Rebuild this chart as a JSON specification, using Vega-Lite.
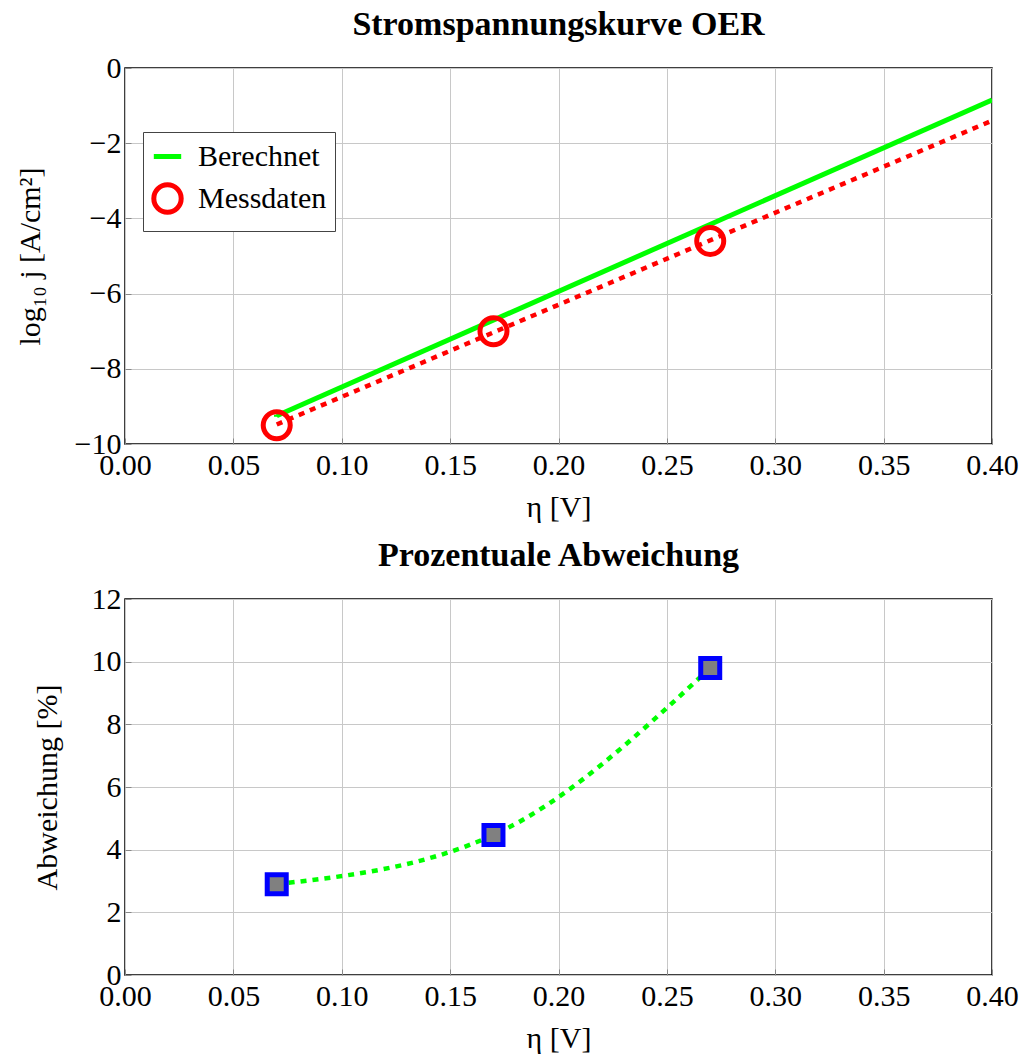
{
  "$schema": "https://vega.github.io/schema/vega-lite/v6.json",
  "background": "white",
  "padding": {"left": 14, "top": 7, "right": 30, "bottom": 5},
  "spacing": 15,
  "config": {
    "font": "Liberation Serif",
    "view": {"stroke": "black", "strokeWidth": 1.5},
    "axis": {
      "labelFont": "Liberation Serif",
      "titleFont": "Liberation Serif",
      "labelFontSize": 30,
      "titleFontSize": 30,
      "labelColor": "black",
      "titleColor": "black",
      "titleFontWeight": "normal",
      "gridColor": "#c8c8c8",
      "gridWidth": 1,
      "domain": false,
      "tickColor": "#888888",
      "tickSize": -6,
      "labelPadding": 12,
      "titlePadding": 12,
      "labelFlush": false,
      "labelOverlap": false
    },
    "axisY": {"labelPadding": 10, "titlePadding": 29},
    "title": {"font": "Liberation Serif", "fontSize": 34, "fontWeight": "bold", "color": "black", "offset": 11}
  },
  "datasets": {
    "calc": [
      {"eta": 0.07, "logj": -9.25, "series": "Berechnet"},
      {"eta": 0.40, "logj": -0.85, "series": "Berechnet"}
    ],
    "fit": [
      {"eta": 0.07, "logj": -9.48},
      {"eta": 0.40, "logj": -1.40}
    ],
    "meas": [
      {"eta": 0.07, "logj": -9.5, "series": "Messdaten"},
      {"eta": 0.17, "logj": -7.0, "series": "Messdaten"},
      {"eta": 0.27, "logj": -4.6, "series": "Messdaten"}
    ],
    "dev": [
      {"eta": 0.07, "dev": 2.9},
      {"eta": 0.17, "dev": 4.47},
      {"eta": 0.27, "dev": 9.8}
    ]
  },
  "vconcat": [
    {
      "title": "Stromspannungskurve OER",
      "width": 867,
      "height": 376,
      "layer": [
        {
          "data": {"name": "calc"},
          "mark": {"type": "line", "strokeWidth": 5, "clip": true},
          "encoding": {
            "x": {"field": "eta", "type": "quantitative", "scale": {"domain": [0, 0.4], "nice": false}, "axis": {"title": "η [V]", "values": [0, 0.05, 0.1, 0.15, 0.2, 0.25, 0.3, 0.35, 0.4], "format": ".2f"}},
            "y": {"field": "logj", "type": "quantitative", "scale": {"domain": [-10, 0], "nice": false}, "axis": {"title": "log₁₀ j [A/cm²]", "values": [-10, -8, -6, -4, -2, 0]}},
            "stroke": {"field": "series", "type": "nominal", "scale": {"domain": ["Berechnet", "Messdaten"], "range": ["#00ff00", "#ff0000"]},
              "legend": {"title": null, "orient": "none", "legendX": 18, "legendY": 64, "labelFont": "Liberation Serif", "labelFontSize": 30, "labelColor": "black", "strokeColor": "#444444", "fillColor": "white", "padding": 8, "rowPadding": 2, "symbolStrokeWidth": 5, "symbolSize": 750, "symbolFillColor": "transparent", "labelOffset": 14,
                "encode": {"symbols": {"update": {"fill": {"value": "transparent"}}}}}},
            "shape": {"field": "series", "type": "nominal", "scale": {"domain": ["Berechnet", "Messdaten"], "range": ["stroke", "circle"]}, "legend": null}
          }
        },
        {
          "data": {"name": "fit"},
          "mark": {"type": "line", "strokeWidth": 4.5, "color": "#ff0000", "strokeDash": [6, 6]},
          "encoding": {
            "x": {"field": "eta", "type": "quantitative"},
            "y": {"field": "logj", "type": "quantitative"}
          }
        },
        {
          "data": {"name": "meas"},
          "mark": {"type": "point", "filled": true, "fill": "transparent", "strokeWidth": 5, "size": 730, "opacity": 1},
          "encoding": {
            "x": {"field": "eta", "type": "quantitative"},
            "y": {"field": "logj", "type": "quantitative"},
            "stroke": {"field": "series", "type": "nominal"},
            "shape": {"field": "series", "type": "nominal"}
          }
        }
      ]
    },
    {
      "title": "Prozentuale Abweichung",
      "width": 867,
      "height": 376,
      "data": {"name": "dev"},
      "layer": [
        {
          "mark": {"type": "line", "strokeWidth": 4.5, "color": "#00ff00", "strokeDash": [6, 6], "interpolate": "monotone"},
          "encoding": {
            "x": {"field": "eta", "type": "quantitative", "scale": {"domain": [0, 0.4], "nice": false}, "axis": {"title": "η [V]", "values": [0, 0.05, 0.1, 0.15, 0.2, 0.25, 0.3, 0.35, 0.4], "format": ".2f"}},
            "y": {"field": "dev", "type": "quantitative", "scale": {"domain": [0, 12], "nice": false}, "axis": {"title": "Abweichung [%]", "values": [0, 2, 4, 6, 8, 10, 12]}}
          }
        },
        {
          "mark": {"type": "point", "shape": "square", "filled": true, "fill": "#808080", "stroke": "#0000ff", "strokeWidth": 5, "size": 361, "opacity": 1},
          "encoding": {
            "x": {"field": "eta", "type": "quantitative"},
            "y": {"field": "dev", "type": "quantitative"}
          }
        }
      ]
    }
  ]
}
